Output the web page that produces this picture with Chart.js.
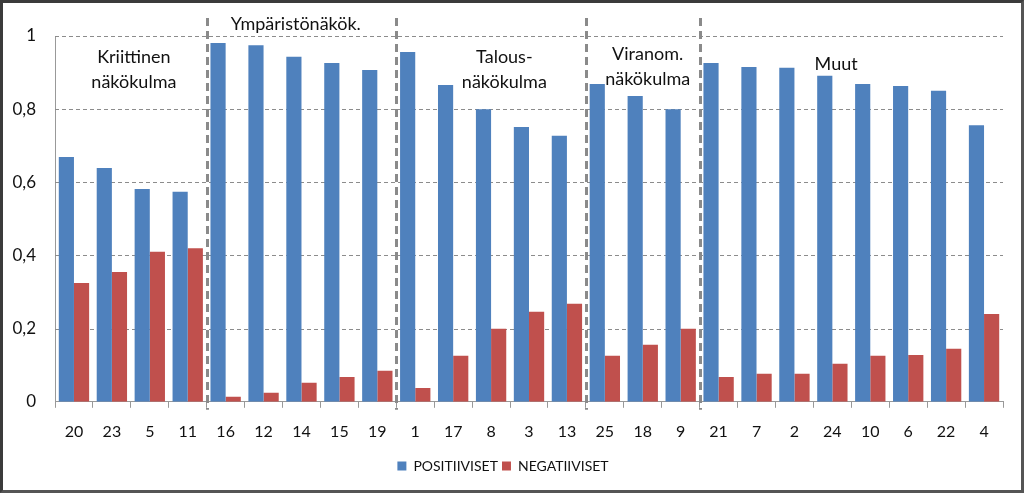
<!DOCTYPE html>
<html>
<head>
<meta charset="utf-8">
<script src="https://cdn.jsdelivr.net/npm/chart.js@4/dist/chart.umd.min.js"></script>
<style>
  body { margin: 0; background: #fff; }
  #wrap {
    width: 1024px; height: 493px; box-sizing: border-box;
    border: 3px solid #3b3b3b; border-right-color: #555; border-bottom-color: #555;
    position: relative; background: #fff;
  }
  canvas { display: block; }
</style>
</head>
<body>
<div id="wrap"><canvas id="chart" width="1018" height="487"></canvas></div>
<script>
// data
let categories = ["20", "23", "5", "11", "16", "12", "14", "15", "19", "1", "17", "8", "3", "13",
    "25", "18", "9", "21", "7", "2", "24", "10", "6", "22", "4"];
let positiiviset = [0.669, 0.639, 0.582, 0.574, 0.981, 0.975, 0.943, 0.926, 0.907, 0.956, 0.866, 0.80,
    0.751, 0.727, 0.869, 0.836, 0.80, 0.926, 0.915, 0.913, 0.891, 0.869, 0.863, 0.85, 0.756];
let negatiiviset = [0.325, 0.355, 0.41, 0.42, 0.014, 0.025, 0.052, 0.068, 0.085, 0.038, 0.126, 0.20,
    0.246, 0.268, 0.126, 0.156, 0.20, 0.068, 0.077, 0.077, 0.104, 0.126, 0.128, 0.145, 0.24];
let groupNames = [["Kriittinen", "näkökulma"], ["Ympäristönäkök."], ["Talous-", "näkökulma"],
    ["Viranom.", "näkökulma"], ["Muut"]];
let groupStart = [0, 4, 9, 14, 17];
let yTicks = [0, 0.2, 0.4, 0.6, 0.8, 1];

const FONT = "Lato, 'Open Sans', sans-serif";

// dashed horizontal grid behind the bars
const gridPlugin = {
    id: "dashgrid",
    beforeDatasetsDraw(chart) {
        let ctx = chart.ctx;
        let y = chart.scales.y;
        let area = chart.chartArea;
        ctx.save();
        ctx.strokeStyle = "#8c8c8c";
        ctx.lineWidth = 1;
        ctx.setLineDash([4, 3]);
        yTicks.forEach(function (v) {
            if (v == 0) return;
            let py = Math.round(y.getPixelForValue(v)) + 0.5;
            ctx.beginPath();
            ctx.moveTo(area.left, py);
            ctx.lineTo(area.right, py);
            ctx.stroke();
        });
        ctx.restore();
    }
};

// dashed separators and group titles
const groupPlugin = {
    id: "groups",
    afterDatasetsDraw(chart) {
        let ctx = chart.ctx;
        let x = chart.scales.x;
        let y = chart.scales.y;
        let half = (x.getPixelForValue(1) - x.getPixelForValue(0)) / 2;
        ctx.save();
        ctx.strokeStyle = "#8a8a8a";
        ctx.lineWidth = 3;
        ctx.setLineDash([8, 5]);
        for (let g = 1; g < groupStart.length; g++) {
            let px = Math.round(x.getPixelForValue(groupStart[g]) - half) + 0.5;
            ctx.beginPath();
            ctx.moveTo(px, 15);
            ctx.lineTo(px, y.bottom + 8);
            ctx.stroke();
        }
        ctx.setLineDash([]);
        ctx.fillStyle = "#111";
        ctx.font = "18px " + FONT;
        ctx.textAlign = "center";
        ctx.textBaseline = "middle";
        // where each title sits, in category units and pixels from the top
        let centers = [1.58, 5.85, 11.35, 15.13, 20.1];
        let tops = [54, 21, 54, 51, 61];
        for (let g = 0; g < groupNames.length; g++) {
            let cx = x.getPixelForValue(centers[g]);
            groupNames[g].forEach(function (line, i) {
                ctx.fillText(line, cx, tops[g] + i * 25);
            });
        }
        ctx.restore();
    }
};

new Chart(document.getElementById("chart"), {
    type: "bar",
    data: {
        labels: categories,
        datasets: [{
            label: "POSITIIVISET",
            data: positiiviset,
            backgroundColor: "#4f81bd",
            categoryPercentage: 0.8,
            barPercentage: 1.0
        }, {
            label: "NEGATIIVISET",
            data: negatiiviset,
            backgroundColor: "#c0504d",
            categoryPercentage: 0.8,
            barPercentage: 1.0
        }]
    },
    options: {
        responsive: false,
        animation: false,
        layout: { padding: { left: 0, right: 18, top: 33, bottom: 7 } },
        plugins: {
            legend: {
                position: "bottom",
                labels: {
                    boxWidth: 9, boxHeight: 9, color: "#111",
                    font: { size: 14, family: FONT },
                    padding: 4
                }
            },
            tooltip: { enabled: false }
        },
        scales: {
            x: {
                grid: { drawOnChartArea: false, color: "#999", tickLength: 6, offset: true },
                border: { color: "#999" },
                ticks: { color: "#111", font: { size: 16, family: FONT }, padding: 14 }
            },
            y: {
                min: 0, max: 1,
                afterBuildTicks(axis) { axis.ticks = yTicks.map(v => ({ value: v })); },
                afterFit(axis) { axis.width = 52; },
                grid: { display: false },
                border: { display: true, color: "#999" },
                ticks: {
                    color: "#111", font: { size: 17, family: FONT }, padding: 11,
                    callback: v => String(Math.round(v * 10) / 10).replace(".", ",")
                }
            }
        }
    },
    plugins: [gridPlugin, groupPlugin]
});
</script>
</body>
</html>
